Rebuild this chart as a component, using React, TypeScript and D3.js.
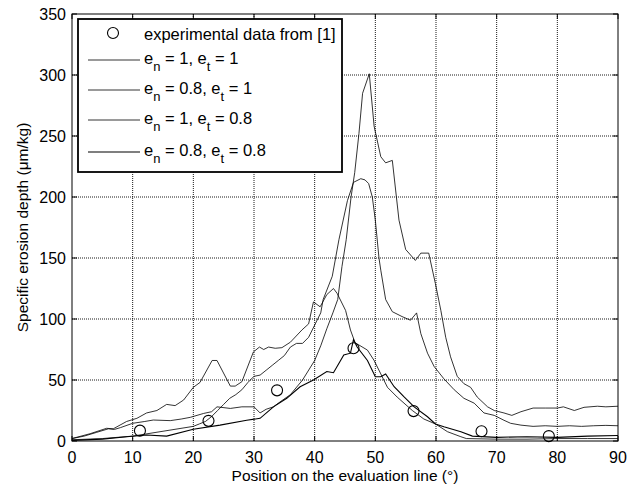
import React from 'react';
import * as d3 from 'd3';

// experimental points from [1]
const expX = [11.2, 22.5, 33.8, 46.4, 56.3, 67.5, 78.6];
const expY = [8.5, 16.5, 41.5, 76, 24.5, 8, 4];

// e_n = 1, e_t = 1
const s1X = [0, 2, 4, 6, 7, 8, 10, 12, 13.4, 16.2, 18, 19.5, 21.7, 23, 23.9, 26.1, 28, 30, 31, 32, 33.2, 34, 36, 38, 40, 41, 42, 43, 43.8, 44.5, 45.2, 46, 46.6, 47.3, 47.9, 49, 49.8, 50.9, 51.7, 52.8, 53.9, 55, 56.6, 57.5, 58.8, 59.9, 60.8, 61.6, 62.4, 63.5, 64.6, 65.7, 66.8, 68.5, 69.6, 71.2, 72.5, 74, 76, 78, 80, 81, 82.8, 84.4, 86.6, 88, 90];
const s1Y = [2, 4, 7, 10, 9.5, 11, 14.5, 16, 17.2, 16.7, 18, 19.4, 22.6, 24, 28, 26.7, 28, 28, 23, 26, 28, 31, 38, 50, 66, 78, 92, 105, 116, 143, 165, 200, 220, 252, 285, 301, 258, 233, 228, 230, 181, 157, 148, 154, 154, 129, 107, 85, 69, 53, 47, 44, 36, 28, 25, 23, 21, 24, 27, 27, 27, 28, 25, 27.6, 28.5, 28, 28.5];

// e_n = 0.8, e_t = 1
const s2X = [0, 5, 10, 15, 20, 21, 22, 23, 24, 25, 26, 27, 28, 29, 30, 31, 32, 33, 34, 35, 36, 37, 38, 39, 40, 41, 41.4, 42.9, 44, 45.4, 46.4, 47.6, 48.3, 48.9, 49.5, 50, 50.6, 50.9, 51.7, 52.8, 54.4, 55.8, 56.8, 57.5, 58.6, 59.7, 61.3, 63, 64.6, 66.3, 67.9, 69.6, 71.2, 72.3, 74, 76, 78, 80, 82, 84, 86, 88, 90];
const s2Y = [1, 2, 4, 8, 12, 14, 16, 20, 25, 30, 35, 38, 42, 48, 53, 54, 58, 62, 66, 70, 77, 80, 80, 85, 95, 105, 116, 135, 165, 197, 212, 215, 214, 211, 200, 181, 150, 140, 116, 106, 102, 99, 105, 88, 72, 61, 51, 42, 35, 31, 23, 21, 17, 14.5, 13, 12, 12.5, 12, 12.5, 12, 12.5, 12.8, 12.5];

// e_n = 1, e_t = 0.8
const s3X = [0, 3, 5.7, 6.8, 9, 10.7, 12.3, 14, 15.6, 17, 18.4, 20, 21.1, 23.1, 23.9, 26.1, 26.9, 28, 29.9, 30.9, 31.6, 32.4, 33.5, 34.6, 36, 37.9, 39, 39.8, 40.9, 42, 43.1, 43.7, 45.1, 45.9, 46.7, 47.3, 48.7, 49.8, 50.9, 52, 53.6, 56.1, 58, 59.9, 61.9, 64.1, 65, 70, 75, 80, 85, 90];
const s3Y = [2, 6, 10.4, 10, 16, 18.6, 23, 25, 30, 29, 33.6, 44, 48, 66, 66, 45, 45, 48.6, 73, 77, 75, 77, 76, 76.5, 81, 91, 96, 114, 110, 120, 125, 121, 107, 91, 80, 78.7, 74.5, 66, 55, 44, 36, 25, 18, 14, 7.6, 3.5, 2, 1.5, 1.5, 2, 2, 2];

// e_n = 0.8, e_t = 0.8
const s4X = [0, 5, 9, 12.3, 15.6, 20, 24.4, 28.8, 31, 33.2, 35.4, 37.6, 39.8, 42, 43.1, 44.8, 45.9, 46.4, 47, 48.7, 50, 50.9, 51.7, 53.1, 54.7, 56.4, 58.6, 59.9, 61.3, 64.1, 66, 70, 75, 80, 85, 90];
const s4Y = [0.5, 1.5, 3.5, 4.9, 4, 9.6, 13, 17, 18.6, 28, 35, 44.5, 50, 57, 56, 70.5, 72, 83, 77, 66, 52.7, 52.7, 55, 44.5, 36.3, 28, 19.9, 14, 11.7, 7.6, 4, 3, 3.5, 3, 4, 4.5];

const legendEn = ['1', '0.8', '1', '0.8'];
const legendEt = ['1', '1', '0.8', '0.8'];
const xTicks = [0, 10, 20, 30, 40, 50, 60, 70, 80, 90];
const yTicks = [0, 50, 100, 150, 200, 250, 300, 350];

const App = () => {
  const margin = { top: 14, right: 22, bottom: 47, left: 72 };
  const width = 640, height = 488;

  const x = d3.scaleLinear().domain([0, 90]).range([margin.left, width - margin.right]);
  const y = d3.scaleLinear().domain([0, 350]).range([height - margin.bottom, margin.top]);

  const line = d3.line<[number, number]>().x(d => x(d[0])).y(d => y(d[1]));
  const series = [
    { xs: s1X, ys: s1Y, w: 0.8 },
    { xs: s2X, ys: s2Y, w: 0.8 },
    { xs: s3X, ys: s3Y, w: 0.8 },
    { xs: s4X, ys: s4Y, w: 1.1 },
  ];

  const font = 'Liberation Sans, Arial, sans-serif';
  const lg = { x: 78, y: 19, w: 264, h: 153 };
  const rowY = [33, 60, 90, 120, 152];

  return (
    <svg width={width} height={height} style={{ position: 'absolute', left: 0, top: 0, background: '#fff' }} fontFamily={font}>
      <rect x={0} y={0} width={width} height={height} fill="#fff" />
      {/* grid */}
      <g stroke="#000" strokeWidth={0.9} strokeDasharray="1,1">
        {xTicks.slice(1, -1).map(t => (
          <line key={'gx' + t} x1={x(t)} x2={x(t)} y1={y(0)} y2={y(350)} />
        ))}
        {yTicks.slice(1, -1).map(t => (
          <line key={'gy' + t} x1={x(0)} x2={x(90)} y1={y(t)} y2={y(t)} />
        ))}
      </g>
      {/* curves */}
      <g fill="none" stroke="#000">
        {series.map((s, i) => (
          <path key={i} d={line(s.xs.map((v, j) => [v, s.ys[j]] as [number, number])) || ''} strokeWidth={s.w} />
        ))}
      </g>
      <g fill="none" stroke="#000" strokeWidth={1.1}>
        {expX.map((v, i) => (
          <circle key={i} cx={x(v)} cy={y(expY[i])} r={5.5} />
        ))}
      </g>
      {/* frame + ticks */}
      <rect x={x(0)} y={y(350)} width={x(90) - x(0)} height={y(0) - y(350)} fill="none" stroke="#000" strokeWidth={1} />
      <g stroke="#000" strokeWidth={1}>
        {xTicks.map(t => (
          <g key={'tx' + t}>
            <line x1={x(t)} x2={x(t)} y1={y(0)} y2={y(0) - 5} />
            <line x1={x(t)} x2={x(t)} y1={y(350)} y2={y(350) + 5} />
          </g>
        ))}
        {yTicks.map(t => (
          <g key={'ty' + t}>
            <line x1={x(0)} x2={x(0) + 5} y1={y(t)} y2={y(t)} />
            <line x1={x(90)} x2={x(90) - 5} y1={y(t)} y2={y(t)} />
          </g>
        ))}
      </g>
      <g fontSize={16} fill="#000">
        {xTicks.map(t => (
          <text key={'lx' + t} x={x(t)} y={y(0) + 22} textAnchor="middle">{t}</text>
        ))}
        {yTicks.map(t => (
          <text key={'ly' + t} x={x(0) - 6} y={y(t) + 6} textAnchor="end">{t}</text>
        ))}
        <text x={(x(0) + x(90)) / 2} y={481} textAnchor="middle" fontSize={15.5}>Position on the evaluation line (°)</text>
        <text transform={`translate(28, ${(y(0) + y(350)) / 2}) rotate(-90)`} textAnchor="middle" fontSize={15.5}>
          Specific erosion depth (μm/kg)
        </text>
      </g>
      {/* legend */}
      <g>
        <rect x={lg.x} y={lg.y} width={lg.w} height={lg.h} fill="#fff" stroke="#000" strokeWidth={1.8} />
        <circle cx={113} cy={rowY[0]} r={5.5} fill="none" stroke="#000" strokeWidth={1.1} />
        <text x={144} y={rowY[0] + 7} fontSize={16.5}>experimental data from [1]</text>
        {legendEn.map((en, i) => (
          <g key={'lg' + i}>
            <line x1={88} x2={140} y1={rowY[i + 1]} y2={rowY[i + 1]} stroke="#000" strokeWidth={series[i].w} />
            <text x={144} y={rowY[i + 1] + 4} fontSize={16.5}>
              e<tspan fontSize={13} dy={7}>n</tspan>
              <tspan dy={-7}>{` = ${en}, e`}</tspan>
              <tspan fontSize={13} dy={7}>t</tspan>
              <tspan dy={-7}>{` = ${legendEt[i]}`}</tspan>
            </text>
          </g>
        ))}
      </g>
    </svg>
  );
};

export default App;
